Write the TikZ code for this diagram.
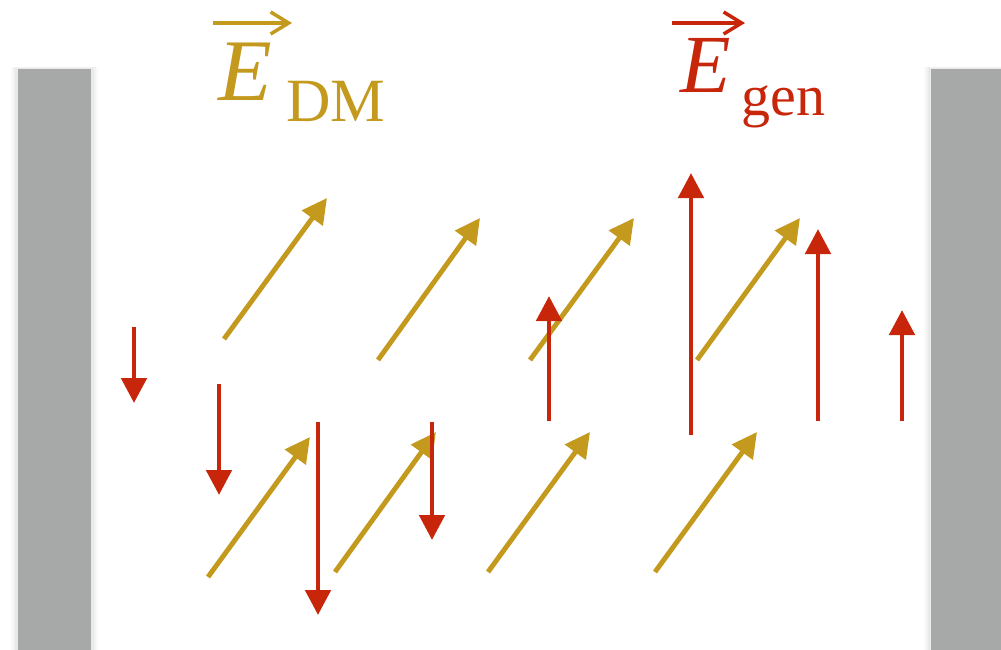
\documentclass[tikz,border=0pt]{standalone}
\usepackage{fontspec}
\setmainfont{Liberation Serif}
\usepackage{tikz}
\usetikzlibrary{arrows.meta,calc}
\definecolor{dm}{HTML}{C49A1E}
\definecolor{gn}{HTML}{C8260A}
\definecolor{pl}{HTML}{A6A9A8}
\tikzset{
  dmvec/.style={draw=dm, line width=2.8pt, -{Triangle[length=0.5cm,width=0.5cm]}},
  genvec/.style={draw=gn, line width=2.8pt, -{Triangle[length=0.5cm,width=0.5cm]}},
  vecbar/.style={line width=2pt, -{Straight Barb[length=3.6mm,width=4.4mm]}},
  plate/.style={fill=pl, draw=none},
  fieldlbl/.style={anchor=base west, inner sep=0pt}
}

\begin{document}
\begin{tikzpicture}[x=0.2mm, y=-0.2mm]
  \useasboundingbox (0,0) rectangle (1001,650);
  % plates with a soft edge
  \foreach \d/\o in {7/0.02, 5/0.03, 3/0.04} {
    \fill[black, opacity=\o] (18-\d,69-\d/3) rectangle (91+\d,650);
    \fill[black, opacity=\o] (931-\d,69-\d/3) rectangle (1001,650);
  }
  \fill[plate] (18,69) rectangle (91,650);
  \fill[plate] (931,69) rectangle (1001,650);
  % dark matter field
  \foreach \a/\b/\c/\d in {224/339/327/198, 378/360/480/218, 530/360/634/218, 697/360/800/218,
                           208/577/310/437, 335/572/436/432, 488/572/590/432, 655/572/757/432}
    \draw[dmvec] (\a,\b) -- (\c,\d);
  % generated field
  \foreach \x/\a/\b in {134/327/403, 219/384/495, 318/422/615, 432/422/540,
                        549/421/296, 691/435/173, 818/421/229, 902/421/310}
    \draw[genvec] (\x,\a) -- (\x,\b);
  % labels
  \node[fieldlbl, text=dm, font=\fontsize{50}{60}\selectfont] (edm) at (218,100)
    {\textit{E}\hspace{2.8mm}\raisebox{-0.42cm}{\fontsize{35}{40}\selectfont DM}};
  \draw[vecbar, dm] ($(edm.base west)+(-5,-77)$) -- ++(79,0);
  \node[fieldlbl, text=gn, font=\fontsize{47}{56}\selectfont] (egen) at (680,92)
    {\textit{E}\hspace{2.1mm}\raisebox{-0.46cm}{\fontsize{33}{40}\selectfont gen}};
  \draw[vecbar, gn] ($(egen.base west)+(-8,-69)$) -- ++(73,0);
\end{tikzpicture}
\end{document}
